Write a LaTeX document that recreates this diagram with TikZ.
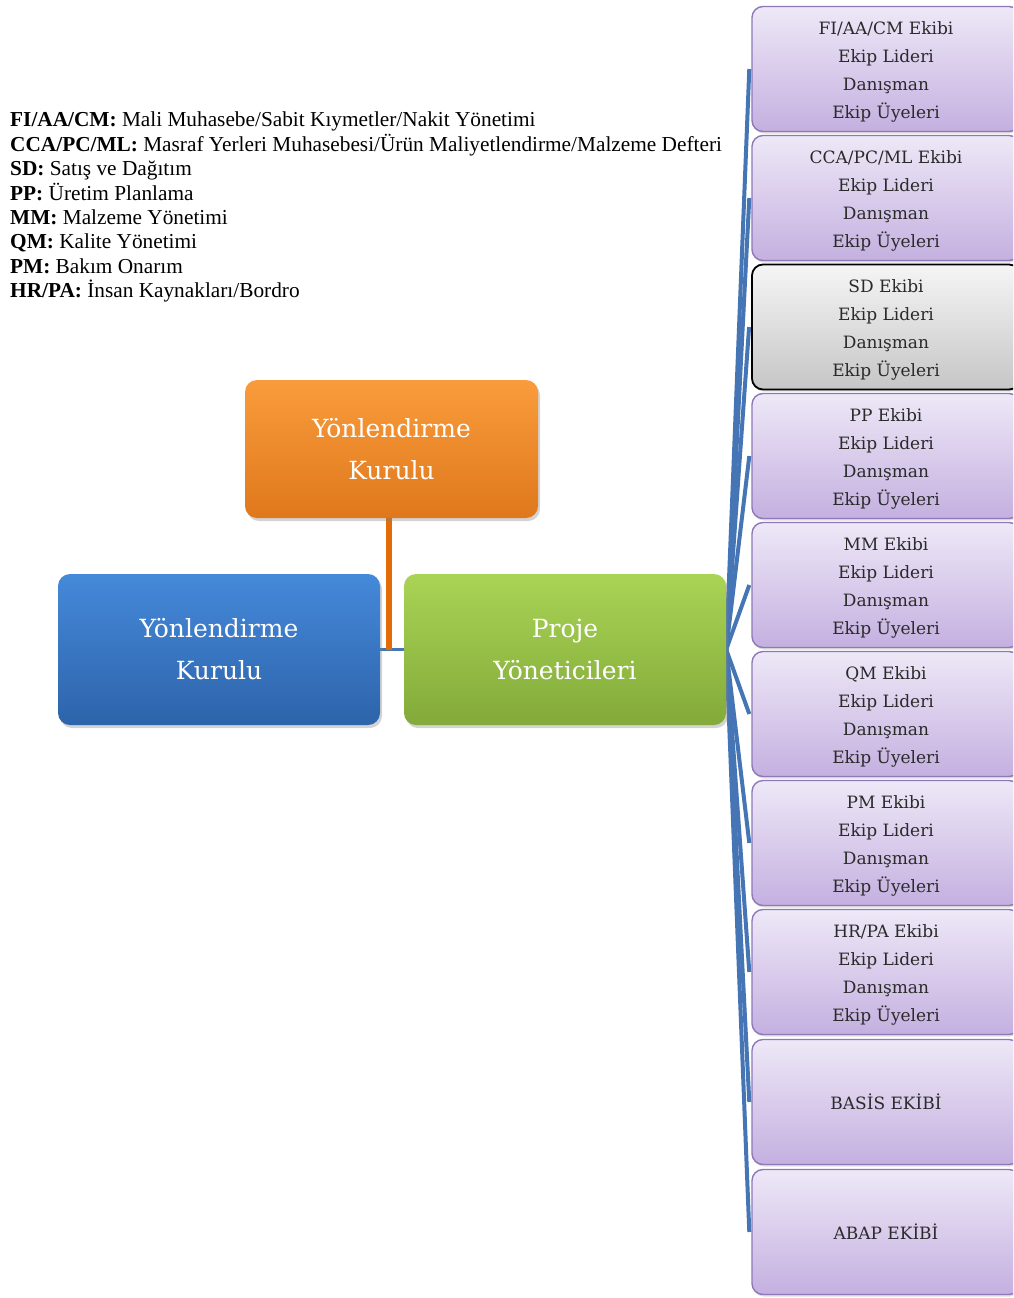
\documentclass[tikz,border=0pt]{standalone}
\usepackage{fontspec}
\setmainfont{Liberation Serif}
\newfontfamily\boxfont{DejaVu Serif}
\usetikzlibrary{shadows}
\definecolor{purTop}{HTML}{EEE8F7}
\definecolor{purBot}{HTML}{C4B0E0}
\definecolor{purLine}{HTML}{8E78B8}
\definecolor{grTop}{HTML}{F5F5F5}
\definecolor{grBot}{HTML}{C6C6C6}
\definecolor{orTop}{HTML}{F99C3C}
\definecolor{orBot}{HTML}{DF781C}
\definecolor{orLine}{HTML}{E36C09}
\definecolor{blTop}{HTML}{4589DA}
\definecolor{blBot}{HTML}{2D64AA}
\definecolor{gnTop}{HTML}{A9D455}
\definecolor{gnBot}{HTML}{83AA3A}
\definecolor{conn}{HTML}{4575B4}
\definecolor{txt}{HTML}{2A2A2A}
\newcommand{\firststrut}{\rule{0pt}{19pt}}
\pgfdeclarelayer{bg}
\pgfsetlayers{bg,main}
\tikzset{
  teambox/.style={rounded corners=11pt, draw=purLine, line width=1.4pt,
    top color=purTop, bottom color=purBot, minimum width=268pt, minimum height=125pt,
    align=center, text=txt, font=\boxfont\fontsize{17}{28}\selectfont,
    drop shadow={opacity=0.25, shadow xshift=1pt, shadow yshift=-2pt}},
  graybox/.style={teambox, draw=black, line width=1.8pt, top color=grTop, bottom color=grBot},
  bigbox/.style={rounded corners=12pt, draw=none, align=center, text=white,
    font=\boxfont\fontsize{25}{42}\selectfont,
    drop shadow={opacity=0.35, shadow xshift=2pt, shadow yshift=-3pt}},
  connline/.style={draw=conn, line width=4pt},
}
\begin{document}
\begin{tikzpicture}[x=1pt,y=-1pt]
\useasboundingbox (0,0) rectangle (1013,1298);
\clip (0,0) rectangle (1013,1298);
% legend
\node[anchor=north west, inner sep=0pt, align=left,
  font=\fontsize{21.3}{24.4}\selectfont] (legend) at (10,112)
  {\textbf{FI/AA/CM:} Mali Muhasebe/Sabit Kıymetler/Nakit Yönetimi\\
   \textbf{CCA/PC/ML:} Masraf Yerleri Muhasebesi/Ürün Maliyetlendirme/Malzeme Defteri\\
   \textbf{SD:} Satış ve Dağıtım\\
   \textbf{PP:} Üretim Planlama\\
   \textbf{MM:} Malzeme Yönetimi\\
   \textbf{QM:} Kalite Yönetimi\\
   \textbf{PM:} Bakım Onarım\\
   \textbf{HR/PA:} İnsan Kaynakları/Bordro};
% main boxes
\node[bigbox, top color=orTop, bottom color=orBot, minimum width=293pt, minimum height=138pt] (yk) at (391.5,449) {Yönlendirme\\Kurulu};
\node[bigbox, top color=blTop, bottom color=blBot, minimum width=322pt, minimum height=151pt] (yk2) at (219,649.5) {Yönlendirme\\Kurulu};
\node[bigbox, top color=gnTop, bottom color=gnBot, minimum width=322pt, minimum height=151pt] (pm) at (565,649.5) {Proje\\Yöneticileri};
% team boxes
\node[teambox] (t1) at (886,69) {\firststrut FI/AA/CM Ekibi\\Ekip Lideri\\Danışman\\Ekip Üyeleri};
\node[teambox] (t2) at (886,198) {\firststrut CCA/PC/ML Ekibi\\Ekip Lideri\\Danışman\\Ekip Üyeleri};
\node[graybox] (t3) at (886,327) {\firststrut SD Ekibi\\Ekip Lideri\\Danışman\\Ekip Üyeleri};
\node[teambox] (t4) at (886,456) {\firststrut PP Ekibi\\Ekip Lideri\\Danışman\\Ekip Üyeleri};
\node[teambox] (t5) at (886,585) {\firststrut MM Ekibi\\Ekip Lideri\\Danışman\\Ekip Üyeleri};
\node[teambox] (t6) at (886,714) {\firststrut QM Ekibi\\Ekip Lideri\\Danışman\\Ekip Üyeleri};
\node[teambox] (t7) at (886,843) {\firststrut PM Ekibi\\Ekip Lideri\\Danışman\\Ekip Üyeleri};
\node[teambox] (t8) at (886,972) {\firststrut HR/PA Ekibi\\Ekip Lideri\\Danışman\\Ekip Üyeleri};
\node[teambox] (t9) at (886,1102) {BASİS EKİBİ};
\node[teambox] (t10) at (886,1232) {ABAP EKİBİ};
% connectors
\coordinate (j) at (389,649.5);
\begin{pgfonlayer}{bg}
  \draw[draw=conn, line width=3pt] (yk2.east) -- (pm.west);
  \draw[draw=orLine, line width=6pt] (yk.south -| j) -- (j);
  \foreach \t in {t1,t2,t3,t4,t5,t6,t7,t8,t9,t10}
    \draw[connline] (pm.east) -- ([xshift=-2pt]\t.west);
\end{pgfonlayer}
\end{tikzpicture}
\end{document}
